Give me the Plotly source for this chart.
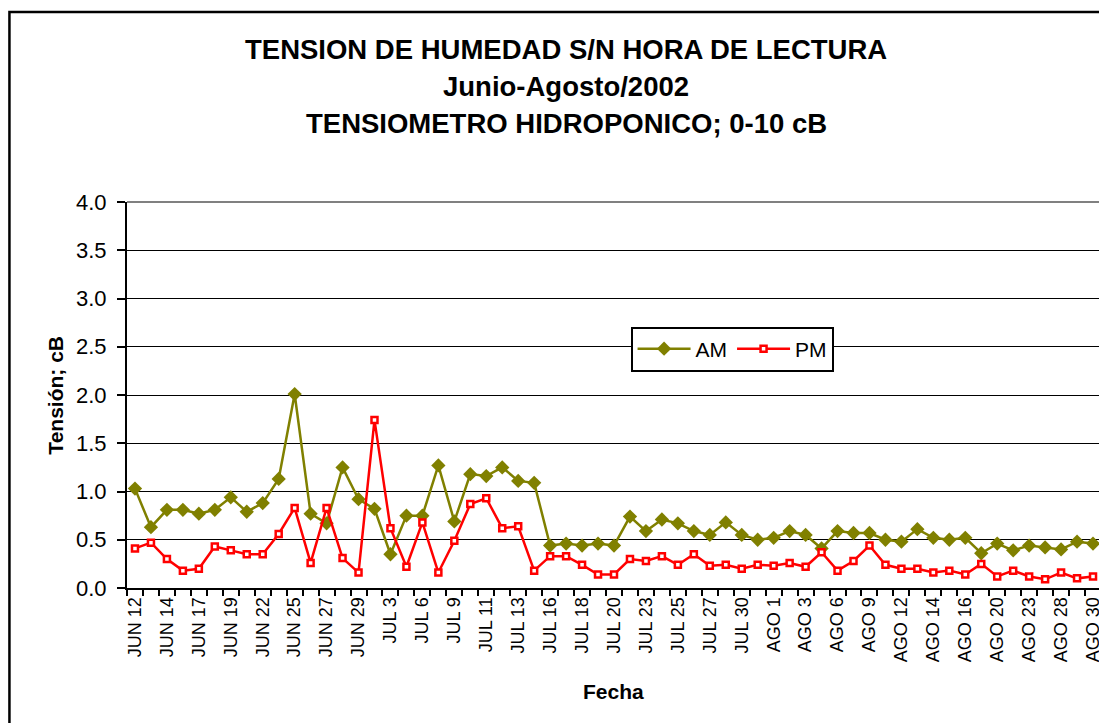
import plotly.graph_objects as go

fechas = [
    'JUN 12', 'JUN 13', 'JUN 14', 'JUN 15', 'JUN 17', 'JUN 18', 'JUN 19', 'JUN 20',
    'JUN 22', 'JUN 24', 'JUN 25', 'JUN 26', 'JUN 27', 'JUN 28', 'JUN 29', 'JUL 1',
    'JUL 3', 'JUL 4', 'JUL 6', 'JUL 8', 'JUL 9', 'JUL 10', 'JUL 11', 'JUL 12',
    'JUL 13', 'JUL 15', 'JUL 16', 'JUL 17', 'JUL 18', 'JUL 19', 'JUL 20', 'JUL 22',
    'JUL 23', 'JUL 24', 'JUL 25', 'JUL 26', 'JUL 27', 'JUL 29', 'JUL 30', 'JUL 31',
    'AGO 1', 'AGO 2', 'AGO 3', 'AGO 5', 'AGO 6', 'AGO 8', 'AGO 9', 'AGO 10',
    'AGO 12', 'AGO 13', 'AGO 14', 'AGO 15', 'AGO 16', 'AGO 19', 'AGO 20', 'AGO 21',
    'AGO 23', 'AGO 26', 'AGO 28', 'AGO 29', 'AGO 30',
]
am = [
    1.03, 0.63, 0.81, 0.81, 0.77, 0.81, 0.94, 0.79, 0.88, 1.13,
    2.01, 0.77, 0.67, 1.25, 0.92, 0.82, 0.35, 0.75, 0.75, 1.27,
    0.69, 1.18, 1.16, 1.25, 1.11, 1.09, 0.44, 0.46, 0.44, 0.46,
    0.44, 0.74, 0.59, 0.71, 0.67, 0.59, 0.55, 0.68, 0.55, 0.50,
    0.52, 0.59, 0.55, 0.41, 0.59, 0.57, 0.57, 0.50, 0.48, 0.61,
    0.52, 0.50, 0.52, 0.36, 0.46, 0.39, 0.44, 0.42, 0.40, 0.48,
    0.46,
]
pm = [
    0.41, 0.47, 0.30, 0.18, 0.20, 0.43, 0.39, 0.35, 0.35, 0.56,
    0.83, 0.26, 0.83, 0.31, 0.16, 1.74, 0.62, 0.22, 0.68, 0.16,
    0.49, 0.87, 0.93, 0.62, 0.64, 0.18, 0.33, 0.33, 0.24, 0.14,
    0.14, 0.30, 0.28, 0.33, 0.24, 0.35, 0.23, 0.24, 0.20, 0.24,
    0.23, 0.26, 0.22, 0.37, 0.18, 0.28, 0.44, 0.24, 0.20, 0.20,
    0.16, 0.18, 0.14, 0.25, 0.12, 0.18, 0.12, 0.09, 0.16, 0.10,
    0.12,
]
titulo = ['TENSION DE HUMEDAD S/N HORA DE LECTURA', 'Junio-Agosto/2002',
          'TENSIOMETRO HIDROPONICO; 0-10 cB']

FONT = 'Liberation Sans, Arial, sans-serif'
etiquetas = [f if i % 2 == 0 else '' for i, f in enumerate(fechas)]

fig = go.Figure()
fig.add_trace(go.Scatter(
    x=fechas, y=am, name='AM', mode='lines+markers',
    line=dict(color='#808000', width=2.5),
    marker=dict(symbol='diamond', size=11, color='#808000'),
))
fig.add_trace(go.Scatter(
    x=fechas, y=pm, name='PM', mode='lines+markers',
    line=dict(color='#ff0000', width=2.5),
    marker=dict(symbol='square', size=6, color='white',
                line=dict(color='#ff0000', width=2.5)),
))

# titles, axis titles and outer frame
ann = []
for txt, yy in zip(titulo, [1.394, 1.298, 1.203]):
    ann.append(dict(text=f'<b>{txt}</b>', x=0.451, y=yy, xref='paper', yref='paper',
                    xanchor='center', yanchor='middle',
                    showarrow=False, font=dict(size=27.5, color='black')))
ann.append(dict(text='<b>Tensión; cB</b>', x=-0.0743, y=0.5, xref='paper', yref='paper',
                xanchor='center', yanchor='middle',
                textangle=-90, showarrow=False, font=dict(size=21, color='black')))
ann.append(dict(text='<b>Fecha</b>', x=0.499, y=-0.267, xref='paper', yref='paper',
                xanchor='center', yanchor='middle',
                showarrow=False, font=dict(size=21, color='black')))

shapes = [
    dict(type='rect', xref='paper', yref='paper', x0=-0.1207, x1=1.05, y0=-0.6, y1=1.4922,
         line=dict(color='black', width=2.5)),
    dict(type='line', xref='paper', yref='paper', x0=0, x1=1, y0=1, y1=1,
         line=dict(color='#808080', width=2), layer='above'),
    dict(type='line', xref='paper', yref='paper', x0=1, x1=1, y0=0, y1=1,
         line=dict(color='#808080', width=2), layer='above'),
]

fig.update_layout(
    width=1099, height=715,
    margin=dict(l=119, r=4, t=194, b=135),
    paper_bgcolor='white', plot_bgcolor='white',
    font=dict(family=FONT, color='black'),
    annotations=ann, shapes=shapes,
    legend=dict(orientation='h', x=0.517, y=0.619, xanchor='left', yanchor='middle',
                bgcolor='white', bordercolor='black', borderwidth=2,
                font=dict(size=21), itemwidth=53, tracegroupgap=0),
    showlegend=True,
)
fig.update_xaxes(
    type='category', range=[-0.5, len(fechas) - 0.5],
    tickmode='array', tickvals=fechas, ticktext=etiquetas, tickangle=-90,
    tickson='boundaries', ticks='outside', ticklen=6, tickcolor='black', tickwidth=1.5,
    tickfont=dict(size=18), showgrid=False, zeroline=False,
    showline=True, linecolor='black', linewidth=2,
)
fig.update_yaxes(
    range=[0, 4], dtick=0.5, tickformat='.1f',
    ticks='outside', ticklen=8, tickcolor='black', tickwidth=1.5, ticklabelstandoff=6,
    tickfont=dict(size=22), showgrid=True, gridcolor='black', gridwidth=1,
    zeroline=False, showline=True, linecolor='black', linewidth=2,
)

fig.write_html('out.html')
